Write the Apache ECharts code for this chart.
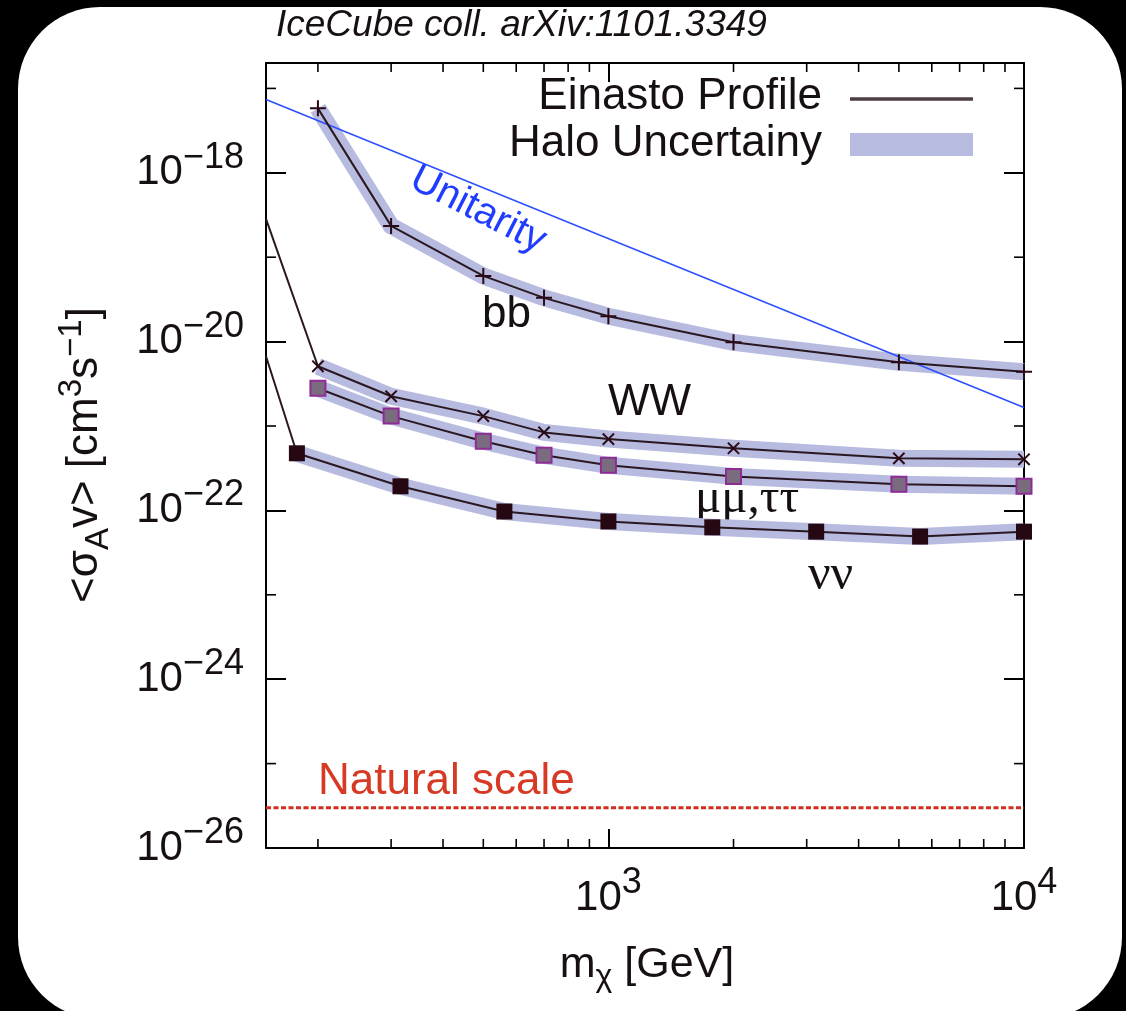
<!DOCTYPE html>
<html>
<head>
<meta charset="utf-8">
<script src="https://cdn.jsdelivr.net/npm/echarts@6/dist/echarts.min.js"></script>
<style>
  html, body { margin: 0; padding: 0; background: #000; width: 1126px; height: 1011px; overflow: hidden; }
  #panel { position: absolute; left: 18px; top: 7px; width: 1104px; height: 1012px; background: #fff; border-radius: 82px; }
  #chart { position: absolute; left: 0; top: 0; width: 1126px; height: 1011px; }
</style>
</head>
<body>
<div id="panel"></div>
<div id="chart"></div>
<script>
// WIMP mass grid (GeV)
const massMain = [200, 300, 500, 700, 1000, 2000, 5000, 10000];
const massNuNu = [178, 316, 562, 1000, 1778, 3162, 5623, 10000];

// Upper limits on <sigma_A v> (cm^3 s^-1), Einasto profile
const sigmaBB    = [5.8e-18, 2.35e-19, 6.0e-20, 3.3e-20, 2.0e-20, 9.8e-21, 5.7e-21, 4.4e-21];
const sigmaWW    = [5.1e-21, 2.25e-21, 1.31e-21, 8.4e-22, 7.0e-22, 5.45e-22, 4.14e-22, 4.03e-22];
const sigmaMuTau = [2.8e-21, 1.31e-21, 6.6e-22, 4.5e-22, 3.42e-22, 2.53e-22, 2.04e-22, 1.93e-22];
const sigmaNuNu  = [4.75e-22, 1.93e-22, 9.7e-23, 7.4e-23, 6.3e-23, 5.6e-23, 4.9e-23, 5.6e-23];

// curves entering from below the plotted mass range: value at the left edge
const edgeMass = 150;
const edgeWW = 2.85e-19;
const edgeNuNu = 6.7e-21;

// unitarity bound (straight in log-log) and natural thermal-relic scale
const unitarityMass  = [150, 10000];
const unitaritySigma = [7.4e-18, 1.66e-21];
const naturalMass  = [150, 10000];
const naturalSigma = [3e-26, 3e-26];

// axis ranges and minor tick values
const X_MIN = 150, X_MAX = 10000;
const Y_MIN = 1e-26, Y_MAX = 2e-17;
const xMinorTicks = [200, 300, 400, 500, 600, 700, 800, 900, 2000, 3000, 4000, 5000, 6000, 7000, 8000, 9000];
const yMinorTicks = [1e-25, 1e-23, 1e-21, 1e-19, 1e-17];

const lg = Math.log10;
const SANS = "'Liberation Sans', Arial, Helvetica, sans-serif";
const SERIF = "'Liberation Serif', 'Times New Roman', serif";
const INK = '#161012';
const LINE = '#2a1820';
const BAND = '#b8bbe0';

const yLo = lg(Y_MIN), yHi = lg(Y_MAX);

function pts(mass, sig) { return mass.map((m, i) => [m, lg(sig[i])]); }
function withEdge(m0, s0, mass, sig) {
  return [{ value: [m0, lg(s0)], symbol: 'none' }].concat(pts(mass, sig));
}

const plusPath = 'path://M-1,-8L1,-8L1,-1L8,-1L8,1L1,1L1,8L-1,8L-1,1L-8,1L-8,-1L-1,-1Z';

function band(mass, sig) {
  return {
    type: 'line', data: pts(mass, sig), symbol: 'none', silent: true, z: 1,
    lineStyle: { width: 17, color: BAND, cap: 'butt', join: 'round' }
  };
}
function curve(data, symbol, size, itemStyle, rotate) {
  return {
    type: 'line', name: 'Einasto Profile', data, symbol, symbolSize: size,
    symbolRotate: rotate || 0, silent: true, z: 3,
    lineStyle: { width: 2, color: LINE, join: 'round' },
    itemStyle
  };
}

function expLabel(v) {
  const e = Math.round(v);
  if (Math.abs(v - e) > 1e-6) return '';
  return '{b|10}{e|' + (e < 0 ? '\u2212' + Math.abs(e) : e) + '}';
}
const tickRich = {
  b: { fontSize: 42, lineHeight: 66, fontFamily: SANS, color: INK },
  e: { fontSize: 36, lineHeight: 32, verticalAlign: 'top', fontFamily: SANS, color: INK }
};

const chart = echarts.init(document.getElementById('chart'), null, { renderer: 'canvas' });

const option = {
  animation: false,
  backgroundColor: 'transparent',
  grid: { left: 266, right: 102, top: 63, bottom: 163 },
  xAxis: [
    {
      type: 'log', min: X_MIN, max: X_MAX, position: 'bottom',
      axisLine: { show: true, lineStyle: { color: '#000', width: 2 } },
      axisTick: { show: true, inside: true, length: 19, lineStyle: { color: '#000', width: 2 } },
      axisLabel: {
        margin: 17, showMinLabel: true, showMaxLabel: true,
        formatter: v => expLabel(lg(v)), rich: tickRich
      },
      splitLine: { show: false }, minorTick: { show: false }
    },
    {
      type: 'log', min: X_MIN, max: X_MAX, position: 'top',
      axisLine: { show: true, lineStyle: { color: '#000', width: 2 } },
      axisTick: { show: true, inside: true, length: 19, lineStyle: { color: '#000', width: 2 } },
      axisLabel: { show: false }, splitLine: { show: false }
    }
  ],
  yAxis: [
    {
      type: 'value', min: yLo, max: yHi, interval: 2, position: 'left',
      axisLine: { show: true, lineStyle: { color: '#000', width: 2 } },
      axisTick: { show: true, inside: true, length: 20, lineStyle: { color: '#000', width: 2 } },
      axisLabel: {
        margin: 22, showMinLabel: true, showMaxLabel: false,
        formatter: v => expLabel(v), rich: tickRich
      },
      splitLine: { show: false }
    },
    {
      type: 'value', min: yLo, max: yHi, interval: 2, position: 'right',
      axisLine: { show: true, lineStyle: { color: '#000', width: 2 } },
      axisTick: { show: true, inside: true, length: 20, lineStyle: { color: '#000', width: 2 } },
      axisLabel: { show: false }, splitLine: { show: false }
    }
  ],
  series: [
    // minor ticks on the log mass axis (bottom and top)
    {
      type: 'custom', silent: true, clip: false, z: 5,
      data: xMinorTicks.map(v => [v, yLo]),
      renderItem(params, api) {
        const v = api.value(0);
        const b = api.coord([v, yLo]);
        const t = api.coord([v, yHi]);
        const st = { stroke: '#000', lineWidth: 1.6 };
        return { type: 'group', children: [
          { type: 'line', shape: { x1: b[0], y1: b[1], x2: b[0], y2: b[1] - 9 }, style: st },
          { type: 'line', shape: { x1: t[0], y1: t[1], x2: t[0], y2: t[1] + 9 }, style: st }
        ] };
      }
    },
    // odd-decade ticks on the cross-section axis (left and right)
    {
      type: 'custom', silent: true, clip: false, z: 5,
      data: yMinorTicks.map(v => [X_MIN, lg(v)]),
      renderItem(params, api) {
        const e = api.value(1);
        const l = api.coord([X_MIN, e]);
        const r = api.coord([X_MAX, e]);
        const st = { stroke: '#000', lineWidth: 1.6 };
        return { type: 'group', children: [
          { type: 'line', shape: { x1: l[0], y1: l[1], x2: l[0] + 10, y2: l[1] }, style: st },
          { type: 'line', shape: { x1: r[0], y1: r[1], x2: r[0] - 10, y2: r[1] }, style: st }
        ] };
      }
    },
    // halo uncertainty bands
    band(massMain, sigmaBB),
    band(massMain, sigmaWW),
    band(massMain, sigmaMuTau),
    band(massNuNu, sigmaNuNu),
    // unitarity bound
    {
      type: 'line', data: pts(unitarityMass, unitaritySigma), symbol: 'none', silent: true, z: 2,
      lineStyle: { width: 1.6, color: '#2d50ff' }
    },
    // natural scale
    {
      type: 'line', data: pts(naturalMass, naturalSigma), symbol: 'none', silent: true, z: 2,
      lineStyle: { width: 3, color: '#d42c1c', type: [5, 2.5] }
    },
    // Einasto profile limits
    curve(pts(massMain, sigmaBB), plusPath, 16, { color: '#2a0a16' }),
    curve(withEdge(edgeMass, edgeWW, massMain, sigmaWW), plusPath, 16, { color: '#2a0a16' }, 45),
    curve(pts(massMain, sigmaMuTau), 'rect', 15, { color: '#7a6c7e', borderColor: '#8e2c96', borderWidth: 2 }),
    curve(withEdge(edgeMass, edgeNuNu, massNuNu, sigmaNuNu), 'rect', 16, { color: '#260812' })
  ],
  graphic: [
    { type: 'text', left: 276, top: 7, style: { text: 'IceCube coll. arXiv:1101.3349', font: 'italic 37px ' + SANS, fill: INK } },
    // key
    { type: 'text', x: 822, y: 97, style: { text: 'Einasto Profile', font: '44px ' + SANS, fill: INK, align: 'right', verticalAlign: 'middle' } },
    { type: 'line', shape: { x1: 850, y1: 99, x2: 973, y2: 99 }, style: { stroke: '#4e3e44', lineWidth: 3.5 } },
    { type: 'text', x: 822, y: 144, style: { text: 'Halo Uncertainy', font: '44px ' + SANS, fill: INK, align: 'right', verticalAlign: 'middle' } },
    { type: 'rect', shape: { x: 850, y: 133, width: 123, height: 23 }, style: { fill: BAND } },
    // curve annotations
    { type: 'text', x: 478, y: 210, rotation: -27 * Math.PI / 180, style: { text: 'Unitarity', font: '40px ' + SANS, fill: '#1f3cff', align: 'center', verticalAlign: 'middle' } },
    { type: 'text', x: 482, y: 315, style: { text: 'bb', font: '44px ' + SANS, fill: INK, verticalAlign: 'middle' } },
    { type: 'text', x: 608, y: 403, style: { text: 'WW', font: '44px ' + SANS, fill: INK, verticalAlign: 'middle' } },
    { type: 'text', x: 695, y: 499, style: { text: '\u03bc\u03bc,\u03c4\u03c4', font: '49px ' + SERIF, fill: INK, verticalAlign: 'middle' } },
    { type: 'text', x: 808, y: 576, style: { text: '\u03bd\u03bd', font: '50px ' + SERIF, fill: INK, verticalAlign: 'middle' } },
    { type: 'text', x: 318, y: 782, style: { text: 'Natural scale', font: '44px ' + SANS, fill: '#d63a25', verticalAlign: 'middle' } },
    // axis titles
    {
      type: 'text', x: 647, y: 965,
      style: {
        text: '{n|m}{sub|\u03c7}{n| [GeV]}', align: 'center', verticalAlign: 'middle',
        rich: {
          n: { fontSize: 43, lineHeight: 56, fontFamily: SANS, fill: INK },
          sub: { fontSize: 32, lineHeight: 40, verticalAlign: 'bottom', fontFamily: SANS, fill: INK }
        }
      }
    },
    {
      type: 'text', x: 85, y: 455, rotation: Math.PI / 2,
      style: {
        text: '{n|<\u03c3}{sub|A}{n|v> [cm}{sup|3}{n|s}{sup|\u22121}{n|]}', align: 'center', verticalAlign: 'middle',
        rich: {
          n: { fontSize: 44, lineHeight: 60, fontFamily: SANS, fill: INK },
          sub: { fontSize: 33, lineHeight: 44, verticalAlign: 'bottom', fontFamily: SANS, fill: INK },
          sup: { fontSize: 33, lineHeight: 30, verticalAlign: 'top', fontFamily: SANS, fill: INK }
        }
      }
    }
  ]
};

chart.setOption(option);
</script>
</body>
</html>
